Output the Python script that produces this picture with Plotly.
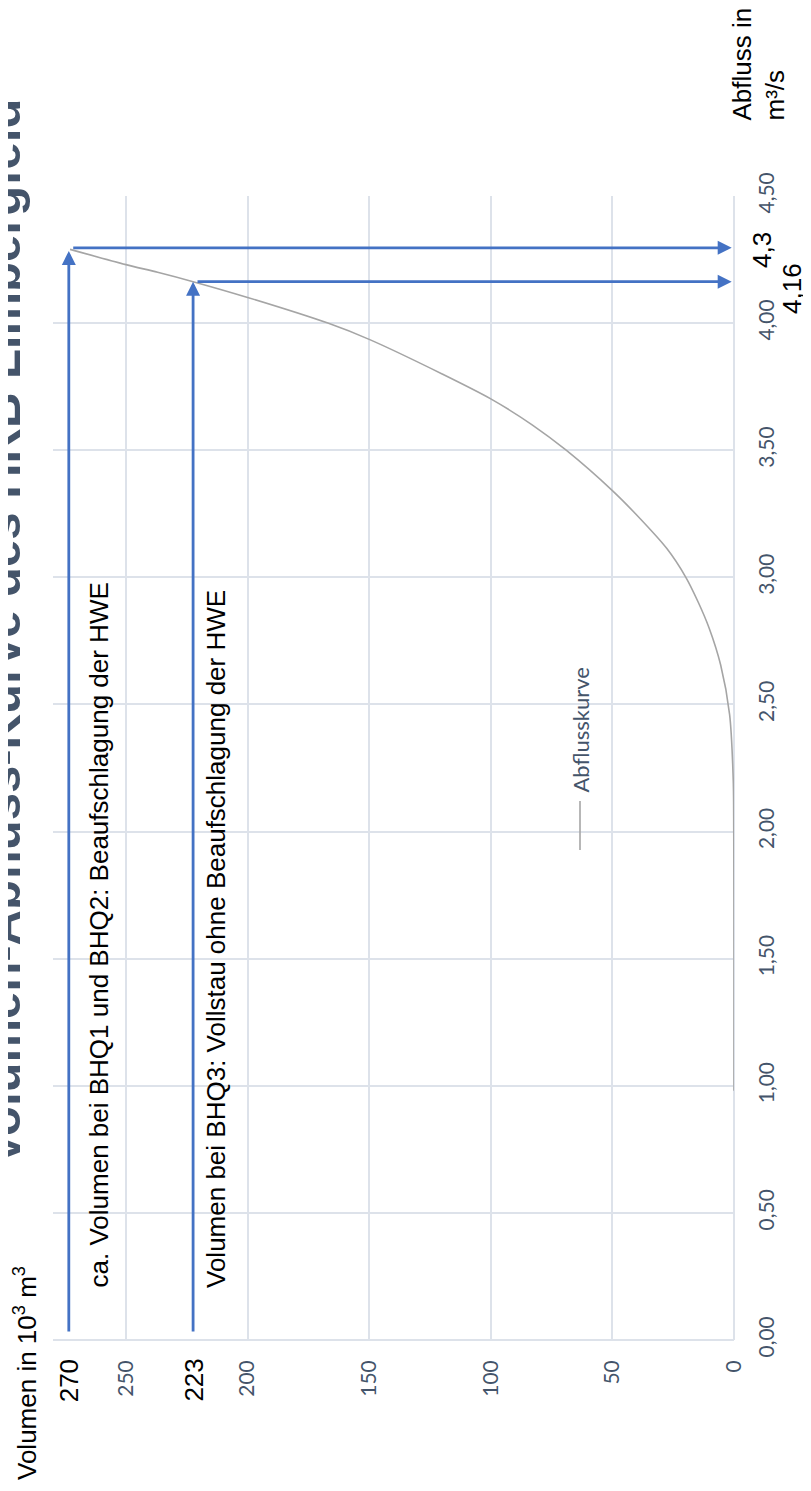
import plotly.graph_objects as go

# ---------------- data ----------------
abfluss = [0.98, 1.5, 2.0, 2.2, 2.46, 2.656, 2.8, 2.902, 3.0, 3.113, 3.25, 3.341, 3.5, 3.6, 3.702, 3.8, 3.936, 4.0, 4.101, 4.163, 4.2, 4.23, 4.29]
volumen = [0, 0, 0.1, 0.3, 1.8, 5.5, 10.2, 14.7, 19.8, 27.6, 40.5, 50, 69, 83, 100, 120, 150, 167, 200, 222.4, 237, 250, 273]

marker_vol = [273.5, 222.4]          # BHQ1/2, BHQ3 (as drawn)
marker_vol_labels = ["270", "223"]
marker_q = [4.296, 4.163]
marker_q_labels = ["4,3", "4,16"]
marker_texts = ["ca. Volumen bei BHQ1 und BHQ2: Beaufschlagung der HWE",
                "Volumen bei BHQ3: Vollstau ohne Beaufschlagung der HWE"]

vol_ticks = [0, 50, 100, 150, 200, 250]
q_ticks = [0, 0.5, 1.0, 1.5, 2.0, 2.5, 3.0, 3.5, 4.0, 4.5]

title = "Volumen-Abfluss-Kurve des HRB Limbergfeld"
series_name = "Abflusskurve"

# ---------------- layout helpers ----------------
OFF = 8                      # page body margin
W, H = 811 - OFF, 1491 - OFF
L, R, T, B = 45, 77, 188, 151
PW, PH = W - L - R, H - T - B
def px_x(p): return (p - OFF - L) / PW          # window px -> paper
def px_y(p): return (H - B - (p - OFF)) / PH

ARIAL = "Arial, Liberation Sans, sans-serif"
CAL = "Lato, Open Sans, sans-serif"
SLATE = "#44546a"
BLUE = "#4472c4"
GRID = "#dde2ea"

fig = go.Figure()
fig.add_trace(go.Scatter(x=volumen, y=abfluss, mode="lines", name=series_name,
                         line=dict(color="#a5a5a5", width=1.6, shape="spline", smoothing=0.8),
                         showlegend=False, hoverinfo="skip"))

ann = []
shapes = []

# vertical arrows (volume markers)
tip_q = [marker_q[0] - 0.012, marker_q[1]]
for v, tq in zip(marker_vol, tip_q):
    ann.append(dict(x=v, y=tq, ax=v, ay=0.028, xref="x", yref="y", axref="x", ayref="y",
                    text="", showarrow=True, arrowhead=2, arrowsize=1, arrowwidth=2.8,
                    arrowcolor=BLUE, standoff=0, startstandoff=0))
# horizontal arrows (discharge markers)
for v, q in zip(marker_vol, marker_q):
    ann.append(dict(x=0.95, y=q, ax=v - 1.2, ay=q, xref="x", yref="y", axref="x", ayref="y",
                    text="", showarrow=True, arrowhead=2, arrowsize=1, arrowwidth=2.8,
                    arrowcolor=BLUE, standoff=0, startstandoff=0))

# marker volume labels
for v, lab in zip(marker_vol, marker_vol_labels):
    ann.append(dict(x=v, y=px_y(1357), xref="x", yref="paper", text=lab, showarrow=False,
                    textangle=-90, xanchor="center", yanchor="top",
                    font=dict(family=ARIAL, size=26, color="#000000")))
# marker discharge labels
q_lab_pos = [(762, 250), (792, 289)]
for (xx, yy), lab in zip(q_lab_pos, marker_q_labels):
    ann.append(dict(x=px_x(xx), y=px_y(yy), xref="paper", yref="paper", text=lab, showarrow=False,
                    textangle=-90, xanchor="center", yanchor="middle",
                    font=dict(family=ARIAL, size=26, color="#000000")))
# marker texts
txt_x = [98, 216]
for xx, t in zip(txt_x, marker_texts):
    ann.append(dict(x=px_x(xx), y=px_y(1290), xref="paper", yref="paper", text=t, showarrow=False,
                    textangle=-90, xanchor="center", yanchor="bottom",
                    font=dict(family=ARIAL, size=26, color="#000000")))

# title (partially cut by left edge as in reference)
ann.append(dict(x=px_x(3), y=px_y(632), xref="paper", yref="paper", text="<b>" + title + "</b>",
                showarrow=False, textangle=-90, xanchor="center", yanchor="middle",
                font=dict(family=ARIAL, size=49, color=SLATE)))
# axis titles
ann.append(dict(x=px_x(25), y=px_y(1482), xref="paper", yref="paper",
                text="Volumen in 10<sup>3</sup> m<sup>3</sup>", showarrow=False,
                textangle=-90, xanchor="center", yanchor="bottom",
                font=dict(family=ARIAL, size=26, color="#000000")))
ann.append(dict(x=px_x(758), y=px_y(123), xref="paper", yref="paper",
                text="Abfluss in<br>m³/s", showarrow=False, align="left",
                textangle=-90, xanchor="center", yanchor="bottom",
                font=dict(family=ARIAL, size=26, color="#000000")))

# legend (rotated, drawn manually)
shapes.append(dict(type="line", xref="paper", yref="paper", x0=px_x(580), x1=px_x(580),
                   y0=px_y(801), y1=px_y(850), line=dict(color="#a5a5a5", width=1.6)))
ann.append(dict(x=px_x(580), y=px_y(795), xref="paper", yref="paper", text=series_name,
                showarrow=False, textangle=-90, xanchor="center", yanchor="bottom",
                font=dict(family=CAL, size=22, color=SLATE)))

fig.update_layout(
    width=W, height=H,
    margin=dict(l=L, r=R, t=T, b=B, pad=0),
    paper_bgcolor="white", plot_bgcolor="white",
    separators=",.",
    annotations=ann, shapes=shapes,
    xaxis=dict(range=[280, 0], tickvals=vol_ticks, tickformat="d", tickangle=-90,
               showgrid=True, gridcolor=GRID, gridwidth=1.5, zeroline=True,
               zerolinecolor=GRID, zerolinewidth=1.5, showline=False, ticks="",
               ticklabelstandoff=15,
               tickfont=dict(family=CAL, size=21, color=SLATE)),
    yaxis=dict(range=[0, 4.5], tickvals=q_ticks, tickformat=".2f", tickangle=-90, side="right",
               showgrid=True, gridcolor=GRID, gridwidth=1.5, zeroline=True,
               zerolinecolor=GRID, zerolinewidth=1.5, showline=False, ticks="",
               ticklabelstandoff=18,
               tickfont=dict(family=CAL, size=21, color=SLATE)),
)

fig.write_html("out.html")
